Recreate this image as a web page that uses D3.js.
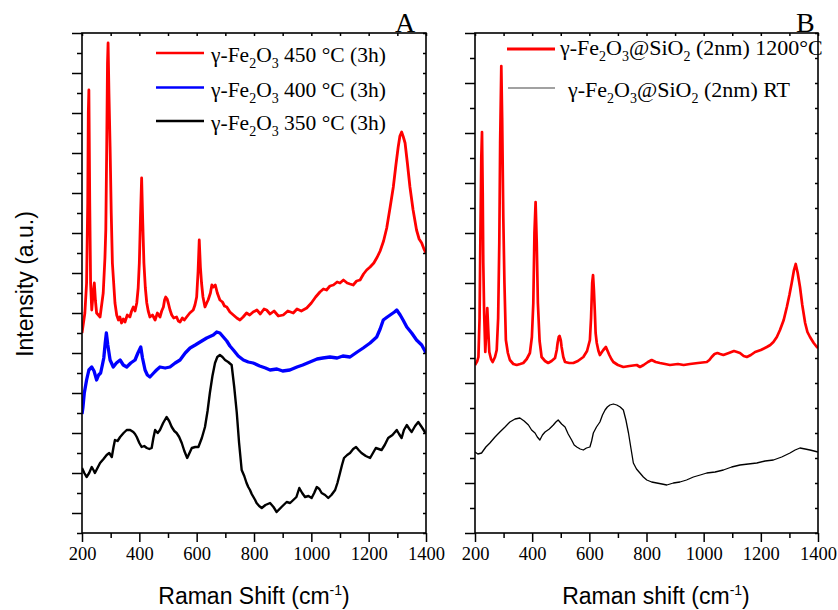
<!DOCTYPE html>
<html><head><meta charset="utf-8">
<script src="https://cdn.jsdelivr.net/npm/d3@7"></script>
<style>
html,body{margin:0;padding:0;background:#fff;}
svg{display:block;}
</style></head>
<body>
<svg id="chart" width="838" height="610"></svg>
<script>
// ---------- DATA ----------
const xTicksMajor = [200, 400, 600, 800, 1000, 1200, 1400];
const xTicksMinor = [300, 500, 700, 900, 1100, 1300];
const yTicksMajorA = [20, 60, 100, 140, 180, 220, 260, 300, 340, 380, 420, 460, 500];
const yTicksMinorA = [0, 40, 80, 120, 160, 200, 240, 280, 320, 360, 400, 440, 480];
const yTicksMajorB = [0, 50, 100, 150, 200, 250, 300, 350, 400, 450, 500];
const yTicksMinorB = [25, 75, 125, 175, 225, 275, 325, 375, 425, 475];

const legendA = ["450 °C (3h)", "400 °C (3h)", "350 °C (3h)"];
const legendB = ["(2nm) 1200°C", "(2nm) RT"];

// Panel A: γ-Fe2O3 450 °C (3h)
const red450 = [[200,200],[210,220],[216,250],[220,330],[222,420],[224,443],[227,330],[230,250],[234,223],[239,240],[243,250],[247,232],[251,220],[263,216],[274,240],[280,275],[283,303],[286,380],[289,470],[291,490],[294,440],[298,386],[302,320],[306,270],[315,230],[321,218],[327,213],[332,216],[338,210],[344,214],[350,211],[358,218],[367,216],[373,222],[379,226],[385,222],[391,230],[396,245],[400,270],[404,315],[408,355],[412,310],[416,270],[421,245],[426,230],[431,222],[437,216],[446,218],[455,213],[463,220],[472,216],[478,222],[484,226],[488,233],[492,236],[497,234],[501,230],[507,223],[513,218],[520,215],[530,216],[536,212],[542,211],[550,215],[557,213],[565,216],[576,220],[588,223],[594,228],[600,236],[605,262],[609,293],[613,266],[617,250],[622,236],[629,226],[635,230],[640,233],[648,240],[653,248],[658,246],[665,248],[672,240],[681,233],[690,231],[697,227],[705,226],[716,221],[728,218],[740,215],[751,213],[762,216],[774,220],[785,218],[797,221],[810,223],[822,219],[835,224],[844,223],[856,219],[870,222],[885,217],[902,218],[918,222],[937,220],[950,224],[965,222],[984,225],[1000,230],[1015,236],[1030,241],[1042,244],[1053,243],[1065,247],[1077,248],[1090,251],[1100,250],[1112,253],[1125,250],[1135,249],[1146,248],[1158,252],[1170,253],[1182,259],[1193,263],[1205,266],[1218,270],[1230,276],[1240,282],[1252,292],[1263,305],[1275,326],[1286,346],[1295,368],[1303,386],[1309,397],[1315,401],[1321,396],[1327,390],[1335,370],[1344,346],[1355,323],[1367,303],[1376,294],[1385,290],[1393,284],[1400,280]];

// Panel A: γ-Fe2O3 400 °C (3h)
const blue400 = [[200,119],[203,125],[208,140],[216,153],[224,163],[234,166],[242,162],[251,153],[258,158],[265,160],[271,168],[276,175],[281,190],[285,200],[290,188],[298,173],[309,166],[320,170],[333,173],[344,168],[356,166],[370,170],[385,173],[395,180],[400,183],[405,186],[411,175],[420,163],[428,158],[437,156],[450,160],[460,163],[472,166],[490,165],[507,166],[525,170],[542,173],[560,180],[577,185],[595,188],[612,191],[635,195],[658,198],[670,201],[681,200],[693,196],[705,192],[716,187],[728,183],[745,177],[763,173],[780,171],[797,170],[820,167],[840,165],[856,163],[880,164],[900,162],[925,163],[950,166],[970,168],[995,171],[1020,174],[1040,175],[1065,176],[1090,175],[1110,177],[1135,176],[1160,181],[1181,185],[1205,190],[1228,196],[1240,204],[1251,213],[1265,216],[1280,219],[1290,221],[1298,223],[1310,218],[1320,213],[1333,206],[1350,200],[1367,193],[1385,188],[1400,180]];

// Panel A: γ-Fe2O3 350 °C (3h)
const black350 = [[200,65],[208,60],[216,56],[225,60],[234,66],[240,63],[245,60],[254,65],[263,70],[275,74],[286,78],[295,80],[304,76],[310,86],[315,93],[324,92],[333,96],[345,100],[356,103],[368,103],[379,101],[385,99],[391,96],[400,90],[408,86],[417,87],[426,85],[435,84],[443,85],[449,95],[455,103],[464,100],[472,103],[483,110],[495,116],[504,112],[513,106],[522,102],[530,100],[539,96],[548,90],[557,82],[567,75],[575,80],[583,85],[595,86],[606,86],[618,95],[629,106],[638,122],[646,140],[655,157],[664,170],[672,176],[681,178],[690,176],[699,173],[710,171],[722,168],[731,146],[740,120],[748,90],[757,63],[766,57],[774,50],[780,46],[786,43],[792,39],[798,36],[804,33],[809,30],[818,27],[827,25],[840,28],[856,30],[868,26],[879,21],[896,26],[914,31],[926,30],[937,33],[948,36],[958,45],[968,40],[978,36],[990,37],[1001,35],[1010,40],[1019,46],[1028,44],[1036,40],[1048,38],[1059,35],[1070,38],[1083,43],[1091,50],[1100,60],[1107,68],[1114,75],[1125,78],[1135,80],[1146,84],[1156,86],[1165,83],[1175,80],[1190,77],[1205,75],[1215,80],[1225,85],[1235,84],[1245,83],[1256,88],[1268,95],[1283,98],[1298,103],[1306,99],[1315,95],[1323,103],[1333,108],[1342,104],[1350,101],[1362,107],[1373,111],[1385,106],[1396,101],[1400,100]];

// Panel B: γ-Fe2O3@SiO2 (2nm) 1200°C
const redB1200 = [[200,168],[208,172],[212,176],[216,215],[219,300],[222,375],[224.5,401],[227,340],[229,270],[232,220],[236,181],[240,205],[243,225],[246,205],[250,181],[256,174],[262,171],[270,176],[276,183],[281,215],[285,290],[288,390],[292,467],[295,415],[299,316],[303,250],[308,193],[315,180],[322,173],[334,169],[346,168],[358,169],[369,170],[381,174],[392,180],[399,196],[404,230],[408,300],[412,331],[416,290],[420,230],[426,192],[433,176],[445,172],[456,170],[468,172],[480,175],[486,183],[489,190],[493,196],[496,197],[500,193],[503,186],[509,176],[515,171],[530,170],[544,170],[560,172],[579,176],[592,182],[602,193],[606,215],[610,250],[613,258],[616,243],[619,223],[622,200],[626,190],[632,182],[637,178],[644,181],[649,183],[658,186],[664,182],[670,178],[677,174],[684,171],[700,168],[719,166],[740,167],[766,168],[777,166],[790,168],[805,171],[818,173],[832,171],[847,170],[865,169],[882,168],[910,169],[930,168],[952,169],[980,170],[1011,171],[1020,173],[1028,176],[1038,179],[1048,180],[1058,179],[1069,178],[1088,180],[1106,182],[1117,181],[1127,180],[1140,177],[1151,176],[1165,178],[1180,181],[1200,183],[1221,186],[1233,188],[1244,191],[1256,196],[1267,203],[1280,213],[1291,226],[1300,238],[1308,250],[1316,263],[1322,269],[1329,260],[1337,246],[1345,228],[1355,210],[1363,201],[1372,196],[1385,190],[1396,186],[1400,185]];

// Panel B: γ-Fe2O3@SiO2 (2nm) RT
const blackBRT = [[200,81],[210,79],[223,80],[238,86],[252,90],[270,96],[287,101],[305,106],[322,111],[340,114],[357,115],[372,112],[387,108],[398,103],[410,100],[418,96],[427,93],[436,98],[445,101],[460,104],[474,108],[483,111],[491,113],[503,109],[515,106],[526,99],[538,93],[547,88],[556,86],[568,84],[579,83],[590,85],[602,86],[608,92],[614,100],[625,106],[637,111],[646,118],[655,123],[663,126],[672,128],[684,129],[696,128],[708,126],[719,123],[728,113],[737,100],[746,84],[754,70],[765,64],[777,60],[789,56],[801,53],[818,51],[836,50],[854,49],[871,48],[894,50],[917,51],[940,53],[964,56],[988,58],[1011,60],[1040,61],[1069,63],[1098,66],[1127,68],[1156,69],[1186,70],[1215,72],[1244,73],[1273,76],[1302,80],[1320,83],[1337,85],[1355,84],[1372,83],[1386,82],[1400,81]];

// ---------- LAYOUT ----------
const svg = d3.select("#chart");
const plotTop = 33, plotBottom = 533;
const panels = [
  {id:"A", left:82, right:426, majorY:yTicksMajorA, minorY:yTicksMinorA,
   label:"A", labelX:395, xTitle:"Raman Shift (cm", xTitleX:254},
  {id:"B", left:475, right:818, majorY:yTicksMajorB, minorY:yTicksMinorB,
   label:"B", labelX:796, xTitle:"Raman shift (cm", xTitleX:656}
];
const serif = "'Liberation Serif','Times New Roman',Times,serif";
const sans = "'Liberation Sans',Arial,Helvetica,sans-serif";

panels.forEach(p => {
  p.x = d3.scaleLinear().domain([200,1400]).range([p.left,p.right]);
  p.y = d3.scaleLinear().domain([0,500]).range([plotBottom,plotTop]);
  const g = svg.append("g");
  p.g = g;
  svg.append("clipPath").attr("id","clip"+p.id).append("rect")
    .attr("x",p.left).attr("y",plotTop).attr("width",p.right-p.left).attr("height",plotBottom-plotTop);
  p.plot = g.append("g").attr("clip-path","url(#clip"+p.id+")");

  const axB = g.append("g").attr("transform",`translate(0,${plotBottom})`)
    .call(d3.axisBottom(p.x).tickValues(xTicksMajor).tickSize(9).tickPadding(5).tickFormat(d3.format("d")));
  g.append("g").attr("transform",`translate(0,${plotBottom})`)
    .call(d3.axisBottom(p.x).tickValues(xTicksMinor).tickSize(5).tickFormat(""));
  g.append("g").attr("transform",`translate(0,${plotTop})`)
    .call(d3.axisBottom(p.x).tickValues(xTicksMajor.concat(xTicksMinor)).tickSize(3).tickFormat(""));
  g.append("g").attr("transform",`translate(${p.left},0)`)
    .call(d3.axisLeft(p.y).tickValues(p.majorY).tickSize(10).tickFormat(""));
  g.append("g").attr("transform",`translate(${p.left},0)`)
    .call(d3.axisLeft(p.y).tickValues(p.minorY).tickSize(5).tickFormat(""));
  g.append("g").attr("transform",`translate(${p.right},0)`)
    .call(d3.axisLeft(p.y).tickValues(p.majorY.concat(p.minorY)).tickSize(3).tickFormat(""));

  g.selectAll(".domain").remove();
  g.selectAll(".tick line").attr("stroke","#000").attr("stroke-width",1.5);
  axB.selectAll(".tick text").attr("font-family",serif).attr("font-size",18.5).attr("fill","#000");

  g.append("rect").attr("x",p.left).attr("y",plotTop).attr("width",p.right-p.left).attr("height",plotBottom-plotTop)
    .attr("fill","none").attr("stroke","#000").attr("stroke-width",1.6);

  svg.append("text").attr("x",p.labelX).attr("y",32).attr("font-family",serif).attr("font-size",28)
    .attr("fill","#000").text(p.label);

  const xt = svg.append("text").attr("x",p.xTitleX).attr("y",604).attr("text-anchor","middle")
    .attr("font-family",sans).attr("font-size",23).attr("fill","#000");
  xt.append("tspan").text(p.xTitle);
  xt.append("tspan").attr("dy",-9).attr("font-size",14).text("-1");
  xt.append("tspan").attr("dy",9).text(")");
});

svg.append("text").attr("transform","translate(33,284) rotate(-90)").attr("text-anchor","middle")
  .attr("font-family",sans).attr("font-size",23).attr("fill","#000").text("Intensity (a.u.)");

// ---------- CURVES ----------
const pA = panels[0], pB = panels[1];
function draw(p, data, color, w){
  const line = d3.line().x(d=>p.x(d[0])).y(d=>p.y(d[1]));
  p.plot.append("path").datum(data).attr("d",line).attr("fill","none")
    .attr("stroke",color).attr("stroke-width",w).attr("stroke-linejoin","round");
}
draw(pA, red450, "#ff0000", 2.8);
draw(pA, blue400, "#0000ff", 3.3);
draw(pA, black350, "#000000", 2.4);
draw(pB, redB1200, "#ff0000", 2.7);
draw(pB, blackBRT, "#000000", 1.3);

// ---------- LEGENDS ----------
function feLabel(x, y, suffix, withSi, fs){
  const tx = svg.append("text").attr("x",x).attr("y",y).attr("font-family",serif).attr("font-size",fs).attr("fill","#000");
  tx.append("tspan").text("γ-Fe");
  tx.append("tspan").attr("dy",6).attr("font-size",14).text("2");
  tx.append("tspan").attr("dy",-6).text("O");
  tx.append("tspan").attr("dy",6).attr("font-size",14).text("3");
  if(withSi){
    tx.append("tspan").attr("dy",-6).text("@SiO");
    tx.append("tspan").attr("dy",6).attr("font-size",14).text("2");
    tx.append("tspan").attr("dy",-6).text(" " + suffix);
  } else {
    tx.append("tspan").attr("dy",-6).text(" " + suffix);
  }
}
const legColorsA = ["#ff0000","#0000ff","#000000"];
const legYA = [53, 87.5, 121];
legendA.forEach((s,i)=>{
  svg.append("line").attr("x1",156).attr("x2",204).attr("y1",legYA[i]).attr("y2",legYA[i])
    .attr("stroke",legColorsA[i]).attr("stroke-width",2.6);
  feLabel(211, legYA[i]+9, s, false, 21.5);
});
svg.append("line").attr("x1",507).attr("x2",555).attr("y1",49).attr("y2",49).attr("stroke","#ff0000").attr("stroke-width",2.8);
feLabel(560, 55, legendB[0], true, 22);
svg.append("line").attr("x1",508).attr("x2",555).attr("y1",88).attr("y2",88).attr("stroke","#444").attr("stroke-width",1.2);
feLabel(568, 97, legendB[1], true, 22);
</script>
</body></html>
